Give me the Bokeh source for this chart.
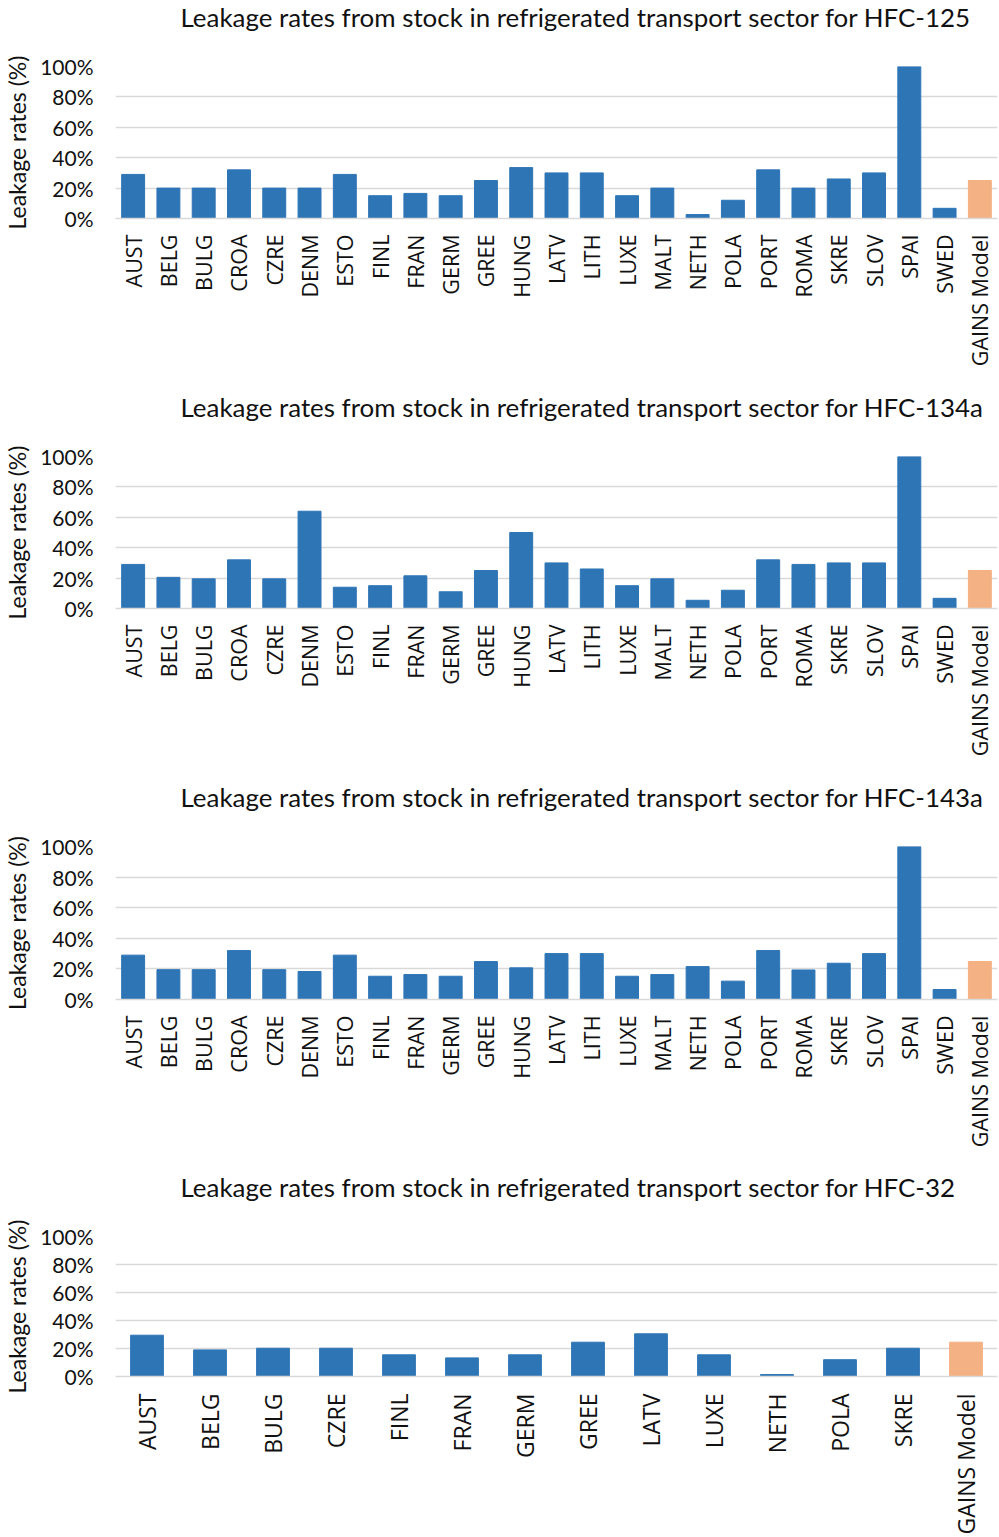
import math
from bokeh.plotting import figure
from bokeh.layouts import column
from bokeh.models import Range1d, FixedTicker, PrintfTickFormatter, ColumnDataSource
from bokeh.embed import file_html
from bokeh.resources import INLINE

# ---- data ----
cats_a = ["AUST", "BELG", "BULG", "CROA", "CZRE", "DENM", "ESTO", "FINL", "FRAN", "GERM",
          "GREE", "HUNG", "LATV", "LITH", "LUXE", "MALT", "NETH", "POLA", "PORT", "ROMA",
          "SKRE", "SLOV", "SPAI", "SWED", "GAINS Model"]
hfc125 = [29, 20, 20, 32, 20, 20, 29, 15, 16.5, 15,
          25, 33.5, 30, 30, 15, 20, 2.6, 12, 32, 20,
          26, 30, 100, 6.7, 25]
hfc134a = [29, 20.5, 19.5, 32, 19.5, 64, 14, 15, 21.5, 11,
           25, 50, 30, 26, 15, 19.5, 5.4, 12, 32, 29,
           30, 30, 100, 6.7, 25]
hfc143a = [29, 19.5, 19.5, 32, 19.5, 18.3, 29, 15.2, 16.3, 15.2,
           24.8, 20.7, 30, 30, 15.2, 16.3, 21.5, 12, 32, 19.3,
           23.7, 30, 100, 6.5, 24.8]
cats_b = ["AUST", "BELG", "BULG", "CZRE", "FINL", "FRAN", "GERM", "GREE", "LATV", "LUXE",
          "NETH", "POLA", "SKRE", "GAINS Model"]
hfc32 = [29.5, 19, 20.2, 20.2, 15.5, 13.3, 15.5, 24.5, 30.5, 15.5,
         1.4, 12, 20.2, 24.5]
titles = ["Leakage rates from stock in refrigerated transport sector for HFC-125",
          "Leakage rates from stock in refrigerated transport sector for HFC-134a",
          "Leakage rates from stock in refrigerated transport sector for HFC-143a",
          "Leakage rates from stock in refrigerated transport sector for HFC-32"]
y_label = "Leakage rates (%)"
y_ticks = [0, 20, 40, 60, 80, 100]

BLUE = "#2E75B6"
ORANGE = "#F4B183"
TXT = "#111111"
W = 999
LEFT = 115
RIGHT = 2


def make(title, cats, vals, height, frame_top, frame_h, bar_w, label_size, label_standoff):
    colors = [ORANGE if c == "GAINS Model" else BLUE for c in cats]
    p = figure(x_range=cats, y_range=Range1d(0, 100), width=W, height=height,
               output_backend="svg", toolbar_location=None,
               min_border_left=LEFT, min_border_right=RIGHT,
               min_border_top=frame_top, min_border_bottom=height - frame_top - frame_h)
    src = ColumnDataSource(dict(cat=cats, val=vals, color=colors))
    p.vbar(x="cat", top="val", width=bar_w, fill_color="color", line_color="color", source=src)
    p.outline_line_color = None
    p.background_fill_color = "white"

    # a blank second line lifts the (top-aligned) title towards the top of the figure
    p.title.text = title + "\n"
    p.title.align = "left"
    p.title.offset = 65
    p.title.vertical_align = "top"
    p.title.text_font = "Lato"
    p.title.text_font_size = "25.9px"
    p.title.text_font_style = "normal"
    p.title.text_color = TXT
    p.title.standoff = 0

    p.xgrid.visible = False
    p.ygrid.grid_line_color = "#d9d9d9"
    p.ygrid.grid_line_width = 1.5

    ya = p.yaxis[0]
    ya.ticker = FixedTicker(ticks=y_ticks)
    ya.formatter = PrintfTickFormatter(format="%d%%")
    ya.major_tick_line_color = None
    ya.minor_tick_line_color = None
    ya.axis_line_color = None
    ya.major_label_text_font = "Lato"
    ya.major_label_text_font_size = "21px"
    ya.major_label_text_color = TXT
    ya.major_label_standoff = 16
    ya.axis_label = y_label
    ya.axis_label_text_font = "Lato"
    ya.axis_label_text_font_size = "23px"
    ya.axis_label_text_font_style = "normal"
    ya.axis_label_text_color = TXT
    ya.axis_label_standoff = 6

    xa = p.xaxis[0]
    xa.major_tick_line_color = None
    xa.minor_tick_line_color = None
    xa.axis_line_color = "#d9d9d9"
    xa.axis_line_width = 1.5
    xa.major_label_orientation = math.pi / 2
    xa.major_label_text_font = "Open Sans"
    xa.major_label_text_font_size = label_size
    xa.major_label_text_color = TXT
    xa.major_label_standoff = label_standoff
    return p


p1 = make(titles[0], cats_a, hfc125, 390, 65, 153, 0.65, "21.5px", 10)
p2 = make(titles[1], cats_a, hfc134a, 390, 65, 153, 0.65, "21.5px", 10)
p3 = make(titles[2], cats_a, hfc143a, 390, 66, 153, 0.65, "21.5px", 10)
p4 = make(titles[3], cats_b, hfc32, 367, 66, 140, 0.52, "23px", 11)

layout = column(p1, p2, p3, p4, spacing=0)
open("out.html", "w").write(file_html(layout, INLINE))
